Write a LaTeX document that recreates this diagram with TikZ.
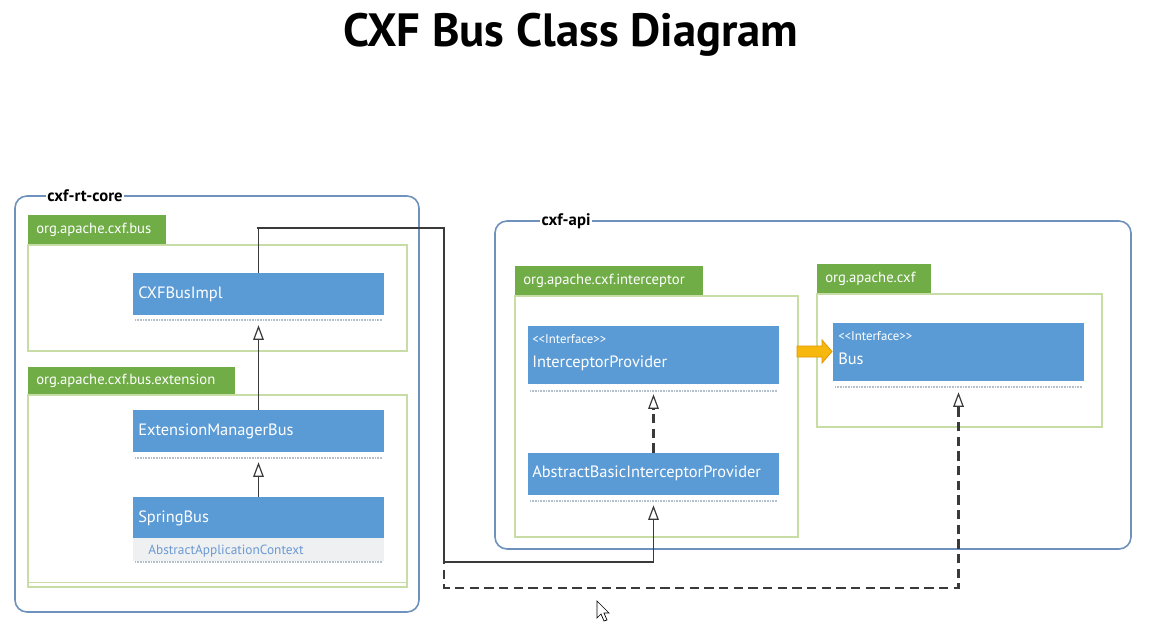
\documentclass[tikz,border=0pt]{standalone}
\usepackage{fontspec}
\setmainfont{PT Sans}
\usetikzlibrary{arrows.meta,fit,calc}
\definecolor{clsblue}{HTML}{5B9BD5}
\definecolor{pkggreen}{HTML}{70AD47}
\definecolor{pkgline}{HTML}{C8DCA6}
\definecolor{outerline}{HTML}{6F92BC}
\definecolor{sepcol}{HTML}{B4BFCC}
\definecolor{attrbg}{HTML}{EEF0F2}
\definecolor{attrtxt}{HTML}{6C9AD2}
\definecolor{lncol}{HTML}{3A3A3A}
\definecolor{yfill}{HTML}{F6B80C}
\definecolor{yline}{HTML}{E39500}
\tikzset{
 outerbox/.style={draw=outerline, line width=1.2pt, rounded corners=9pt, inner sep=0pt},
 outerlabel/.style={fill=white, inner xsep=1pt, inner ysep=0pt, font=\bfseries\fontsize{12.5}{14}\selectfont},
 pkgtab/.style={fill=pkggreen, inner sep=0pt},
 pkgtabtext/.style={text=white, font=\fontsize{11}{13}\selectfont, anchor=west, inner sep=0pt},
 pkgbody/.style={draw=pkgline, line width=0.9pt, inner sep=0pt},
 clswhole/.style={inner sep=0pt},
 clshead/.style={fill=clsblue, inner sep=0pt},
 clsattr/.style={fill=attrbg, inner sep=0pt},
 clsname/.style={text=white, font=\fontsize{12.3}{14}\selectfont, anchor=west, inner sep=0pt},
 attrname/.style={text=attrtxt, font=\fontsize{10}{12}\selectfont, anchor=west, inner sep=0pt},
 stereo/.style={text=white, font=\fontsize{9.6}{11}\selectfont, anchor=west, inner sep=0pt},
 sepline/.style={draw=sepcol, line width=1.3pt, dash pattern=on 0.7pt off 0.5pt},
 tipgen/.tip={Triangle[open, length=11pt, width=8pt, fill=white, line width=0.9pt]},
 gen/.style={draw=lncol, line width=0.9pt, -tipgen},
 real/.style={draw=lncol, line width=1.6pt, dash pattern=on 7pt off 4pt, -tipgen},
 yarrowst/.style={fill=yfill, draw=yline, line width=0.6pt},
}
\begin{document}
\begin{tikzpicture}[x=0.75pt, y=-0.75pt]
\useasboundingbox (0,0) rectangle (1150,631);
\fill[white] (0,0) rectangle (1150,631);

% title
\node[font=\bfseries\fontsize{35}{40}\selectfont] (title) at (571,35) {CXF Bus Class Diagram};

% outer containers
\node[outerbox, fit={(15,196)(419,612)}] (core) {};
\node[outerlabel] (corelbl) at (85,196) {cxf-rt-core};
\node[outerbox, fit={(495,221)(1131,549)}] (api) {};
\node[outerlabel] (apilbl) at (566,221) {cxf-api};

% packages
\node[pkgtab, fit={(28,215)(166,245)}] (pbustab) {};
\node[pkgtabtext] (pbustxt) at (36,230) {org.apache.cxf.bus};
\node[pkgbody, fit={(28,245)(407,351)}] (pbus) {};

\node[pkgtab, fit={(28,367)(235,395)}] (pexttab) {};
\node[pkgtabtext] (pexttxt) at (36,381) {org.apache.cxf.bus.extension};
\node[pkgbody, fit={(28,395)(407,587)}] (pext) {};
\draw[pkgline, line width=0.9pt] ($(pext.south west)+(0,-5)$) -- ($(pext.south east)+(0,-5)$);

\node[pkgtab, fit={(515,266)(703,296)}] (pinttab) {};
\node[pkgtabtext] (pinttxt) at (523,281) {org.apache.cxf.interceptor};
\node[pkgbody, fit={(515,296)(798,537)}] (pint) {};

\node[pkgtab, fit={(817,264)(931,294)}] (pcxftab) {};
\node[pkgtabtext] (pcxftxt) at (825,279) {org.apache.cxf};
\node[pkgbody, fit={(817,294)(1102,427)}] (pcxf) {};

% classes
% CXFBusImpl
\node[clswhole, fit={(133,273)(384,325)}] (impl) {};
\node[clshead, fit={(133,273)(384,315)}] (implh) {};
\node[clsname] (implt) at (138,294) {CXFBusImpl};
\draw[sepline] (135,320) -- (382,320);

% ExtensionManagerBus
\node[clswhole, fit={(133,410)(384,462)}] (ext) {};
\node[clshead, fit={(133,410)(384,452)}] (exth) {};
\node[clsname] (extt) at (138,431) {ExtensionManagerBus};
\draw[sepline] (135,458) -- (382,458);

% SpringBus
\node[clswhole, fit={(133,497)(384,563)}] (spring) {};
\node[clshead, fit={(133,497)(384,538)}] (springh) {};
\node[clsattr, fit={(133,538)(384,561)}] (springa) {};
\node[clsname] (springt) at (138,518) {SpringBus};
\node[attrname] (springat) at (148,551) {AbstractApplicationContext};
\draw[sepline] (135,562) -- (382,562);

% InterceptorProvider
\node[clswhole, fit={(528,326)(779,394)}] (ip) {};
\node[clshead, fit={(528,326)(779,384)}] (iph) {};
\node[stereo] (ips) at (532,339) {<{}<Interface>{}>};
\node[clsname] (ipt) at (532,363) {InterceptorProvider};
\draw[sepline] (530,391) -- (777,391);

% AbstractBasicInterceptorProvider
\node[clswhole, fit={(528,453)(779,505)}] (abip) {};
\node[clshead, fit={(528,453)(779,495)}] (abiph) {};
\node[clsname] (abipt) at (532,473) {AbstractBasicInterceptorProvider};
\draw[sepline] (530,501) -- (777,501);

% Bus
\node[clswhole, fit={(833,323)(1084,392)}] (bus) {};
\node[clshead, fit={(833,323)(1084,381)}] (bush) {};
\node[stereo] (buss) at (838,336) {<{}<Interface>{}>};
\node[clsname] (bust) at (838,359) {Bus};
\draw[sepline] (835,387) -- (1082,387);

% yellow block arrow
\coordinate (ya) at (797,351.5);
\draw[yarrowst] (ya) ++(0,-5.5) -- ++(25,0) -- ++(0,-6) -- ++(10,11.5) -- ++(-10,11.5) -- ++(0,-6) -- ++(-25,0) -- cycle;

% connectors
\coordinate (ctop) at (444,228);
\coordinate (cmid) at (444,562);
\coordinate (clow) at (444,588);

\draw[gen] (exth.north) -- (impl.south);
\draw[gen] (springh.north) -- (ext.south);
\draw[real] (abiph.north) -- (ip.south);
\draw[gen] (implh.north) |- (ctop) -- (cmid) -| (abip.south);
\draw[real, shorten <=33pt] (implh.north) |- (ctop) -- (clow) -| (bus.south);

% mouse pointer
\draw[black, line width=0.5pt, fill=white] (597,601) -- (597,618) -- (601,614) -- (604,621) -- (607,620) -- (604,613) -- (609,613) -- cycle;
\end{tikzpicture}
\end{document}
